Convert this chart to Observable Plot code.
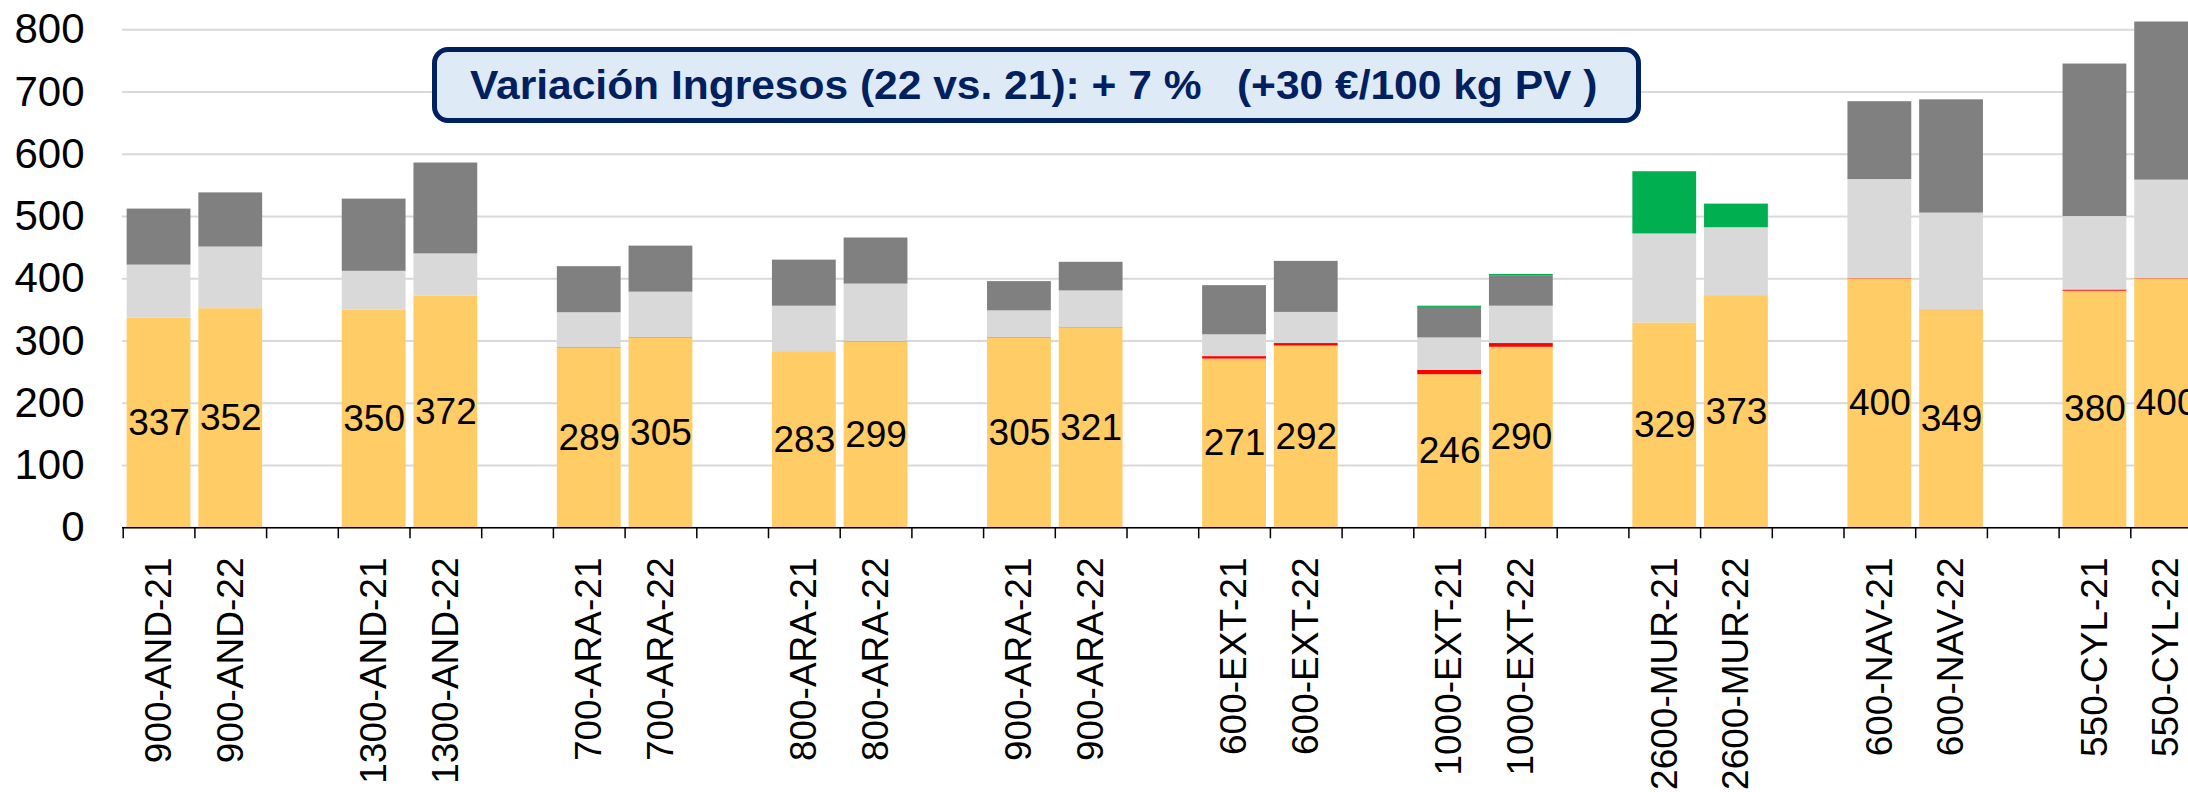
<!DOCTYPE html>
<html>
<head>
<meta charset="utf-8">
<script src="https://cdn.jsdelivr.net/npm/d3@7"></script>
<script src="https://cdn.jsdelivr.net/npm/@observablehq/plot@0.6"></script>
<style>
html, body { margin: 0; padding: 0; background: #fff; }
#wrap { position: relative; width: 2188px; height: 792px; overflow: hidden; font-family: "Liberation Sans", Arial, sans-serif; }
#note {
  position: absolute; left: 432px; top: 47px; width: 1209px; height: 76px;
  box-sizing: border-box; border: 5px solid #002060; border-radius: 16px;
  background: #DEEBF7; color: #002060; font-weight: bold; font-size: 40px;
  line-height: 66px; padding-left: 33px; white-space: pre;
}
#note span { display: inline-block; transform: scaleX(1.063); transform-origin: 0 50%; }
</style>
</head>
<body>
<div id="wrap">
  <div id="chart"></div>
  <div id="note"><span>Variación Ingresos (22 vs. 21): + 7 %   (+30 €/100 kg PV )</span></div>
</div>
<script>
// Category slots on the x axis (gaps separate the pairs)
const slots = [
  "900-AND-21", "900-AND-22", "gap1",
  "1300-AND-21", "1300-AND-22", "gap2",
  "700-ARA-21", "700-ARA-22", "gap3",
  "800-ARA-21", "800-ARA-22", "gap4",
  "900-ARA-21", "900-ARA-22", "gap5",
  "600-EXT-21", "600-EXT-22", "gap6",
  "1000-EXT-21", "1000-EXT-22", "gap7",
  "2600-MUR-21", "2600-MUR-22", "gap8",
  "600-NAV-21", "600-NAV-22", "gap9",
  "550-CYL-21", "550-CYL-22"
];
const categories = [
  "900-AND-21", "900-AND-22", "1300-AND-21", "1300-AND-22",
  "700-ARA-21", "700-ARA-22", "800-ARA-21", "800-ARA-22",
  "900-ARA-21", "900-ARA-22", "600-EXT-21", "600-EXT-22",
  "1000-EXT-21", "1000-EXT-22", "2600-MUR-21", "2600-MUR-22",
  "600-NAV-21", "600-NAV-22", "550-CYL-21", "550-CYL-22"
];
// Series values (stack segments, bottom to top)
const baseValues  = [337, 352, 350, 372, 289, 305, 283, 299, 305, 321, 271, 292, 246, 290, 329, 373, 400, 349, 380, 400];
const redValues   = [0, 0, 0, 0, 0.5, 0.5, 0, 0.5, 0.5, 0.5, 4, 4, 7, 6, 0, 0, 0.5, 0.5, 2, 0.5];
const lightValues = [85, 99, 62, 68, 56, 73, 73, 92, 43, 59, 35, 50, 52, 60, 143, 109, 159, 156, 118, 158];
const darkValues  = [90, 87, 116, 146, 74, 74, 74, 74, 47, 46, 79, 82, 49, 49, 0, 0, 125, 182, 245, 254];
const greenValues = [0, 0, 0, 0, 0, 0, 0, 0, 0, 0, 0, 0, 2, 2, 100, 38, 0, 0, 0, 0];
const yTicks = [0, 100, 200, 300, 400, 500, 600, 700, 800];

const seriesNames = ["base", "red", "light", "dark", "green"];
const seriesColors = ["#FFCC66", "#FF0000", "#D9D9D9", "#808080", "#00B050"];
const seriesArrays = [baseValues, redValues, lightValues, darkValues, greenValues];

const long = [];
seriesNames.forEach((s, k) => {
  categories.forEach((c, i) => {
    long.push({cat: c, series: s, value: seriesArrays[k][i]});
  });
});
const bars = categories.map((c, i) => ({cat: c, base: baseValues[i]}));

const step = 71.7;
const x0 = 122.7;
const font = "Liberation Sans, Arial, sans-serif";

const chart = Plot.plot({
  width: 2188,
  height: 792,
  marginLeft: 122,
  marginRight: 0,
  marginTop: 29,
  marginBottom: 265,
  style: {fontFamily: font, overflow: "hidden", color: "#000", background: "#fff"},
  x: {type: "band", domain: slots, range: [x0, x0 + step * slots.length], round: false,
      paddingInner: 0.11, paddingOuter: 0.055, align: 0.5, label: null},
  y: {domain: [0, 800], range: [527.3, 29.3], label: null},
  color: {domain: seriesNames, range: seriesColors},
  marks: [
    Plot.gridY({ticks: yTicks, stroke: "#D9D9D9", strokeOpacity: 1, strokeWidth: 2}),
    Plot.barY(long, {x: "cat", y: "value", fill: "series", order: seriesNames}),
    Plot.text(bars, {x: "cat", y: d => d.base / 2, text: d => String(d.base), fontSize: 37, fill: "#000"}),
    Plot.ruleY([0], {stroke: "#000", strokeWidth: 1.5}),
    Plot.ruleX(slots, {x: d => d, y1: 0, y2: 0, insetBottom: -11, dx: -step / 2, stroke: "#000", strokeWidth: 1.5}),
    Plot.axisY({ticks: yTicks, tickSize: 0, tickPadding: 38, fontSize: 42, label: null}),
    Plot.axisX({tickRotate: -90, tickSize: 0, tickPadding: 30, fontSize: 37, label: null,
      tickFormat: d => d.startsWith("gap") ? "" : d})
  ]
});
document.getElementById("chart").appendChild(chart);
</script>
</body>
</html>
